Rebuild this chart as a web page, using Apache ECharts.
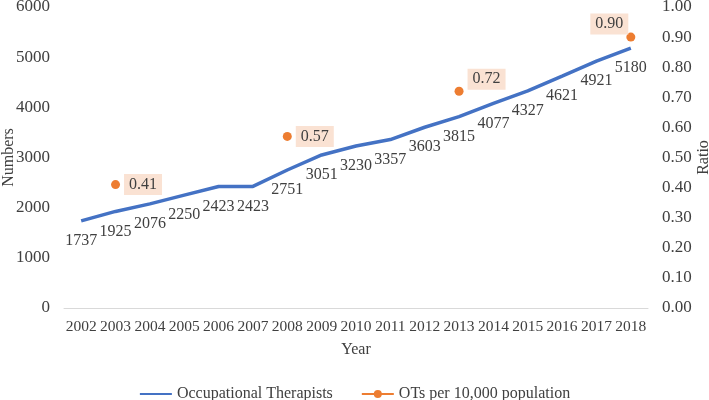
<!DOCTYPE html>
<html>
<head>
<meta charset="utf-8">
<script src="https://cdn.jsdelivr.net/npm/echarts@6/dist/echarts.min.js"></script>
<style>html,body{margin:0;padding:0;background:#fff}#c{width:709px;height:400px}</style>
</head>
<body>
<div id="c"></div>
<script>
const years = ['2002','2003','2004','2005','2006','2007','2008','2009','2010','2011','2012','2013','2014','2015','2016','2017','2018'];
const therapists = [1737,1925,2076,2250,2423,2423,2751,3051,3230,3357,3603,3815,4077,4327,4621,4921,5180];
const ratio = [null,0.41,null,null,null,null,0.57,null,null,null,null,0.72,null,null,null,null,0.90];
const leftTicks = {min:0, max:6000, interval:1000};
const rightTicks = {min:0, max:1, interval:0.1};

const FONT = 'Liberation Serif';
const TXT = '#404040';
const chart = echarts.init(document.getElementById('c'));

const ratioLabelCfg = [
  null,
  {position:'right', distance:4, offset:[0,0]},
  null,null,null,null,
  {position:'right', distance:4, offset:[0,0]},
  null,null,null,null,
  {position:'right', distance:4, offset:[0,-12]},
  null,null,null,null,
  {position:'left', distance:0, offset:[2,-13]}
];
const ratioData = ratio.map((v,i)=> v==null ? null : {value:v, label: ratioLabelCfg[i]});

chart.setOption({
  backgroundColor:'#fff',
  textStyle:{fontFamily:FONT, color:TXT},
  grid:{left:64, right:61, top:7, bottom:92, containLabel:false, outerBoundsMode:'none'},
  legend:{
    top:381, left:'center', itemWidth:32, itemHeight:10, itemGap:28,
    textStyle:{fontFamily:FONT, fontSize:16, color:TXT},
    data:['Occupational Therapists','OTs per 10,000 population']
  },
  xAxis:{
    type:'category', data:years, boundaryGap:true,
    name:'Year', nameLocation:'middle', nameGap:34, nameMoveOverlap:false,
    nameTextStyle:{fontFamily:FONT, fontSize:16, color:TXT},
    axisLine:{lineStyle:{color:'#D9D9D9', width:1}},
    axisTick:{show:false},
    axisLabel:{fontFamily:FONT, fontSize:15.5, color:TXT, margin:11, interval:0, hideOverlap:false}
  },
  yAxis:[
    {type:'value', min:leftTicks.min, max:leftTicks.max, interval:leftTicks.interval,
     name:'Numbers', nameLocation:'middle', nameGap:47, nameMoveOverlap:false,
     nameTextStyle:{fontFamily:FONT, fontSize:16, color:TXT},
     axisLine:{show:false}, axisTick:{show:false}, splitLine:{show:false},
     axisLabel:{fontFamily:FONT, fontSize:17, color:TXT, margin:14, formatter:v=>String(v)}},
    {type:'value', min:rightTicks.min, max:rightTicks.max, interval:rightTicks.interval,
     name:'Ratio', nameLocation:'middle', nameGap:48, nameRotate:90, nameMoveOverlap:false,
     nameTextStyle:{fontFamily:FONT, fontSize:16, color:TXT},
     axisLine:{show:false}, axisTick:{show:false}, splitLine:{show:false},
     axisLabel:{fontFamily:FONT, fontSize:17, color:TXT, margin:14, formatter:v=>v.toFixed(2)}}
  ],
  series:[
    {name:'Occupational Therapists', type:'line', yAxisIndex:0, data:therapists,
     symbol:'circle', symbolSize:2, showSymbol:true, showAllSymbol:true,
     color:'#4472C4', itemStyle:{color:'rgba(68,114,196,0)', borderWidth:0}, lineStyle:{color:'#4472C4', width:3.5},
     label:{show:true, position:'bottom', distance:11, fontFamily:FONT, fontSize:16, color:TXT},
     labelLayout:{hideOverlap:false},
     z:2},
    {name:'OTs per 10,000 population', type:'line', yAxisIndex:1, data:ratioData,
     connectNulls:false, symbol:'circle', symbolSize:9, showSymbol:true, showAllSymbol:true,
     color:'#ED7D31', itemStyle:{color:'#ED7D31'}, lineStyle:{color:'#ED7D31', width:3},
     label:{show:true, fontFamily:FONT, fontSize:16, color:TXT, backgroundColor:'#FAE2D3',
            padding:[3,5,2,5], formatter:p=>Number(p.value).toFixed(2)},
     z:3}
  ],
  animation:false
});
</script>
</body>
</html>
